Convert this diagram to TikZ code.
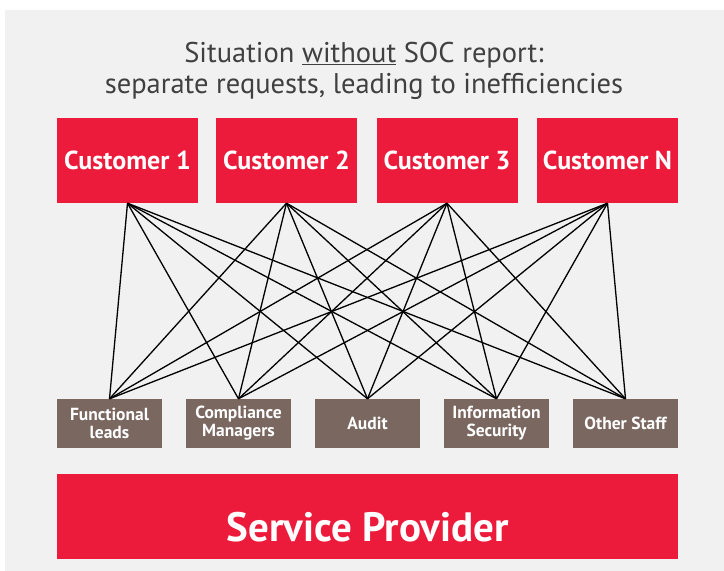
\documentclass[tikz,border=0pt]{standalone}
\usepackage{fontspec}
\setmainfont{PT Sans}
\definecolor{socred}{HTML}{ED1B3B}
\definecolor{staffbrown}{HTML}{796760}
\definecolor{panelgrey}{HTML}{F1F1F1}
\definecolor{titlegrey}{HTML}{404040}
\tikzset{
  customer/.style={fill=socred, text=white, minimum width=141, minimum height=85, inner sep=0,
    font=\bfseries\fontsize{26}{28}\selectfont},
  staff/.style={fill=staffbrown, text=white, minimum width=105, minimum height=49, inner sep=0,
    align=center, font=\bfseries\fontsize{17.5}{18}\selectfont},
  link/.style={line width=1.3pt}
}
\begin{document}
\begin{tikzpicture}[x=1pt,y=-1pt]
  \useasboundingbox (0,0) rectangle (724,571);
  \fill[panelgrey] (5,10) rectangle (724,571);

  \node[text=titlegrey, align=center, font=\fontsize{28.5}{31}\selectfont] (title) at (364,71)
    {Situation \underline{without} SOC report:\\separate requests, leading to inefficiencies};

  \node[customer] (c1) at (127.5,160.5) {Customer 1};
  \node[customer] (c2) at (286.5,160.5) {Customer 2};
  \node[customer] (c3) at (447,160.5) {Customer 3};
  \node[customer] (c4) at (607.5,160.5) {Customer N};

  \node[staff] (s1) at (109.5,423.5) {Functional\\leads};
  \node[staff] (s2) at (238.5,423.5) {Compliance\\Managers};
  \node[staff] (s3) at (367.5,423.5) {Audit};
  \node[staff] (s4) at (496.5,423.5) {Information\\Security};
  \node[staff] (s5) at (625.5,423.5) {Other Staff};

  \node[fill=socred, minimum width=621, minimum height=85, inner sep=0] (provider) at (367.5,516.5) {};
  \node[text=white, font=\bfseries\fontsize{41}{44}\selectfont] (providertext)
    at ([yshift=-11pt]provider.center) {Service Provider};

  % every customer asks every team
  \foreach \c in {c1,c2,c3,c4}
    \foreach \s in {s1,s2,s3,s4,s5}
      \draw[link] (\c.south) -- (\s.north);
\end{tikzpicture}
\end{document}
